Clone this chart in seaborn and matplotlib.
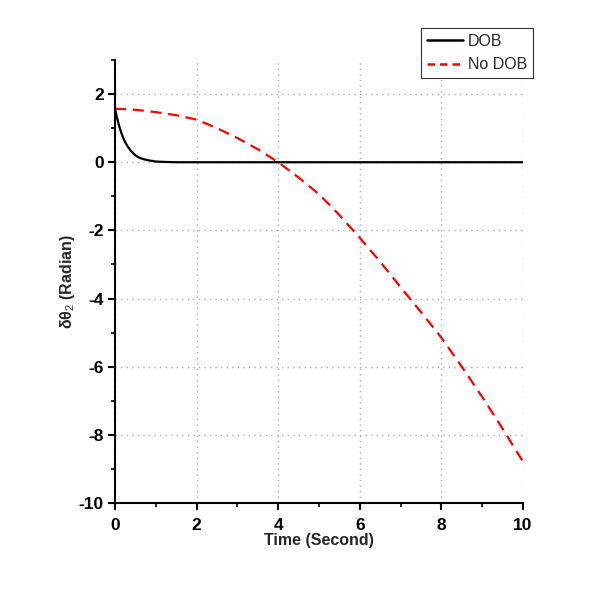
import numpy as np
import pandas as pd
import matplotlib
matplotlib.use("Agg")
import matplotlib.pyplot as plt
from matplotlib.ticker import MultipleLocator
from matplotlib.lines import Line2D
import seaborn as sns

# Data
t_dob = [0, 0.05, 0.1, 0.15, 0.2, 0.25, 0.3, 0.4, 0.5, 0.6, 0.7, 0.8, 1.0, 1.2, 1.5, 2, 3, 4, 5, 6, 7, 8, 9, 10]
y_dob = [1.57, 1.30, 1.07, 0.88, 0.72, 0.59, 0.48, 0.32, 0.20, 0.13, 0.09, 0.06, 0.02, 0.01, 0.0, 0.0, 0.0, 0.0, 0.0, 0.0, 0.0, 0.0, 0.0, 0.0]

t_nodob = [0, 0.5, 1.0, 1.5, 2.0, 2.5, 3.0, 3.5, 4.0, 4.5, 5.0, 5.5, 6.0, 6.5, 7.0, 7.5, 8.0, 8.5, 9.0, 9.5, 10.0]
y_nodob = [1.57, 1.54, 1.47, 1.38, 1.25, 1.00, 0.71, 0.38, 0.0, -0.45, -0.94, -1.55, -2.22, -2.92, -3.67, -4.40, -5.15, -6.00, -6.89, -7.82, -8.79]

labels = ["DOB", "No DOB"]

df = pd.concat([
    pd.DataFrame({"t": t_dob, "y": y_dob, "series": labels[0]}),
    pd.DataFrame({"t": t_nodob, "y": y_nodob, "series": labels[1]}),
])

sns.set_theme(style="white")
plt.rcParams['font.family'] = ['Liberation Sans', 'DejaVu Sans']
plt.rcParams['axes.unicode_minus'] = False
plt.rcParams['mathtext.fontset'] = 'custom'
plt.rcParams['mathtext.rm'] = 'Liberation Sans'
plt.rcParams['mathtext.bf'] = 'Liberation Sans:bold'

fig = plt.figure(figsize=(5.95, 6.06), dpi=100)
ax = fig.add_axes([115/595, 1 - 503/606, (523 - 115)/595, (503 - 60)/606])

sns.lineplot(data=df, x="t", y="y", hue="series", style="series",
             palette={"DOB": "black", "No DOB": "red"},
             dashes={"DOB": "", "No DOB": (5, 3)},
             linewidth=1.6, ax=ax, legend=False, sort=False)

ax.set_xlim(0, 10)
ax.set_ylim(-10, 3)
ax.xaxis.set_major_locator(MultipleLocator(2))
ax.xaxis.set_minor_locator(MultipleLocator(1))
ax.yaxis.set_major_locator(MultipleLocator(2))
ax.yaxis.set_minor_locator(MultipleLocator(1))

for s in ["top", "right"]:
    ax.spines[s].set_visible(False)
for s in ["left", "bottom"]:
    ax.spines[s].set_color("black")
    ax.spines[s].set_linewidth(1.5)

ax.tick_params(which="major", direction="out", length=5, width=1.5, colors="black",
               labelsize=12.5, bottom=True, left=True)
ax.tick_params(axis="x", which="major", pad=6)
ax.tick_params(axis="y", which="major", pad=3)
ax.tick_params(which="minor", direction="out", length=3, width=1.2, colors="black",
               bottom=True, left=True)
for lab in ax.get_xticklabels() + ax.get_yticklabels():
    lab.set_fontweight("bold")

ax.grid(True, which="major", linestyle=(0, (1, 3)), color="#b0b0b0", linewidth=1.0)
ax.set_axisbelow(True)

ax.set_xlabel("Time (Second)", fontsize=11.5, fontweight="bold", labelpad=0)
ax.set_ylabel("δθ$_2$ (Radian)", fontsize=11.5, fontweight="bold", labelpad=1)

handles = [Line2D([], [], color="black", lw=1.8),
           Line2D([], [], color="red", lw=1.8, dashes=(3, 2))]
leg = fig.legend(handles, labels, loc="upper right",
                 bbox_to_anchor=(533/595, 1 - 28/606), frameon=True,
                 fancybox=False, edgecolor="black", fontsize=11.5,
                 handlelength=2.3, handletextpad=0.3, borderpad=0.35,
                 labelspacing=0.55, borderaxespad=0)
leg.get_frame().set_linewidth(0.8)

fig.savefig("out.png", dpi=100, facecolor="white")
